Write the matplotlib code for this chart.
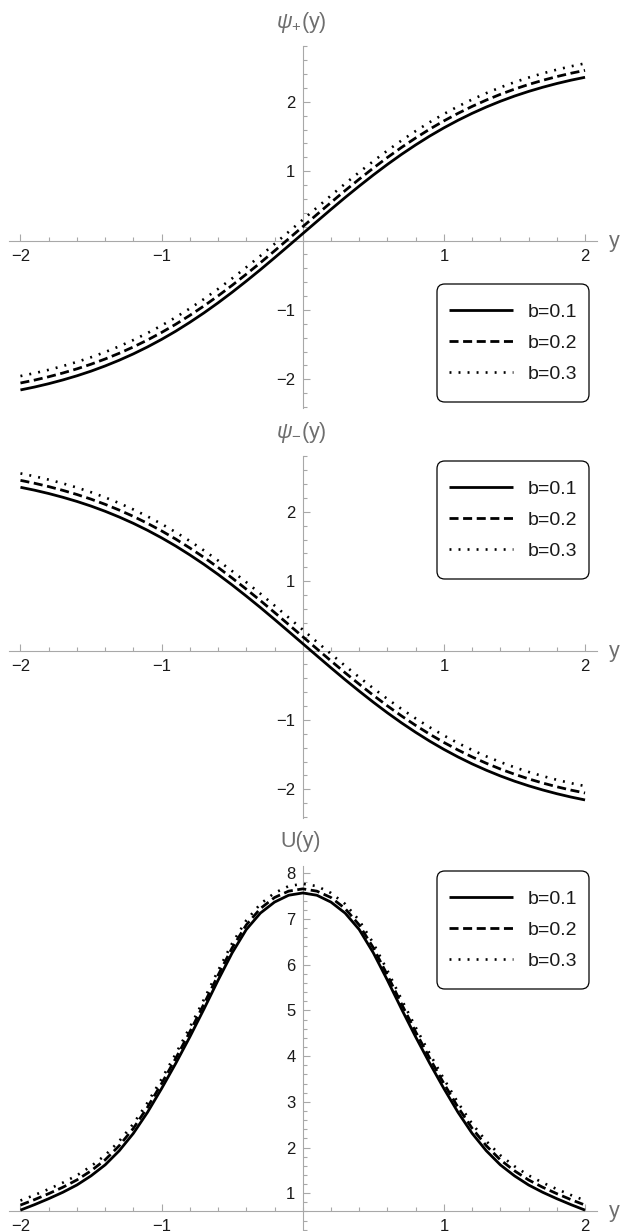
import numpy as np
import matplotlib
matplotlib.use('Agg')
import matplotlib.pyplot as plt
from matplotlib.ticker import FixedLocator
from matplotlib.patches import FancyBboxPatch

plt.rcParams['font.family'] = ['Liberation Sans', 'DejaVu Sans']
plt.rcParams['mathtext.fontset'] = 'custom'
plt.rcParams['mathtext.it'] = 'Liberation Sans:italic'
plt.rcParams['mathtext.rm'] = 'Liberation Sans'
plt.rcParams['mathtext.sf'] = 'Liberation Sans'
plt.rcParams['lines.scale_dashes'] = False

# ---------------- data ----------------
y_grid = np.linspace(-2, 2, 41)
labels = ['b=0.1', 'b=0.2', 'b=0.3']

psi_plus_b01 = [-2.154, -2.112, -2.064, -2.010, -1.950, -1.883, -1.808, -1.725, -1.634, -1.534,
                -1.425, -1.307, -1.179, -1.043, -0.898, -0.745, -0.585, -0.420, -0.249, -0.075,
                0.100, 0.275, 0.449, 0.620, 0.785, 0.945, 1.098, 1.243, 1.379, 1.507,
                1.625, 1.734, 1.834, 1.925, 2.008, 2.083, 2.150, 2.210, 2.264, 2.312, 2.354]
psi_plus_b02 = [-2.054, -2.012, -1.964, -1.910, -1.850, -1.783, -1.708, -1.625, -1.534, -1.434,
                -1.325, -1.207, -1.079, -0.943, -0.798, -0.645, -0.485, -0.320, -0.149, 0.025,
                0.200, 0.375, 0.549, 0.720, 0.885, 1.045, 1.198, 1.343, 1.479, 1.607,
                1.725, 1.834, 1.934, 2.025, 2.108, 2.183, 2.250, 2.310, 2.364, 2.412, 2.454]
psi_plus_b03 = [-1.954, -1.912, -1.864, -1.810, -1.750, -1.683, -1.608, -1.525, -1.434, -1.334,
                -1.225, -1.107, -0.979, -0.843, -0.698, -0.545, -0.385, -0.220, -0.049, 0.125,
                0.300, 0.475, 0.649, 0.820, 0.985, 1.145, 1.298, 1.443, 1.579, 1.707,
                1.825, 1.934, 2.034, 2.125, 2.208, 2.283, 2.350, 2.410, 2.464, 2.512, 2.554]

psi_minus_b01 = [2.354, 2.312, 2.264, 2.210, 2.150, 2.083, 2.008, 1.925, 1.834, 1.734,
                 1.625, 1.507, 1.379, 1.243, 1.098, 0.945, 0.785, 0.620, 0.449, 0.275,
                 0.100, -0.075, -0.249, -0.420, -0.585, -0.745, -0.898, -1.043, -1.179, -1.307,
                 -1.425, -1.534, -1.634, -1.725, -1.808, -1.883, -1.950, -2.010, -2.064, -2.112, -2.154]
psi_minus_b02 = [2.454, 2.412, 2.364, 2.310, 2.250, 2.183, 2.108, 2.025, 1.934, 1.834,
                 1.725, 1.607, 1.479, 1.343, 1.198, 1.045, 0.885, 0.720, 0.549, 0.375,
                 0.200, 0.025, -0.149, -0.320, -0.485, -0.645, -0.798, -0.943, -1.079, -1.207,
                 -1.325, -1.434, -1.534, -1.625, -1.708, -1.783, -1.850, -1.910, -1.964, -2.012, -2.054]
psi_minus_b03 = [2.554, 2.512, 2.464, 2.410, 2.350, 2.283, 2.208, 2.125, 2.034, 1.934,
                 1.825, 1.707, 1.579, 1.443, 1.298, 1.145, 0.985, 0.820, 0.649, 0.475,
                 0.300, 0.125, -0.049, -0.220, -0.385, -0.545, -0.698, -0.843, -0.979, -1.107,
                 -1.225, -1.334, -1.434, -1.525, -1.608, -1.683, -1.750, -1.810, -1.864, -1.912, -1.954]

U_b01 = [0.63, 0.75, 0.88, 1.02, 1.18, 1.38, 1.62, 1.93, 2.31, 2.77, 3.29,
         3.84, 4.42, 5.03, 5.66, 6.26, 6.77, 7.13, 7.37, 7.52, 7.57,
         7.52, 7.37, 7.13, 6.77, 6.26, 5.66, 5.03, 4.42, 3.84, 3.29,
         2.77, 2.31, 1.93, 1.62, 1.38, 1.18, 1.02, 0.88, 0.75, 0.63]
U_b02 = [0.74, 0.86, 0.99, 1.13, 1.29, 1.49, 1.73, 2.04, 2.42, 2.88, 3.40,
         3.95, 4.53, 5.14, 5.77, 6.37, 6.87, 7.23, 7.47, 7.61, 7.66,
         7.61, 7.47, 7.23, 6.87, 6.37, 5.77, 5.14, 4.53, 3.95, 3.40,
         2.88, 2.42, 2.04, 1.73, 1.49, 1.29, 1.13, 0.99, 0.86, 0.74]
U_b03 = [0.84, 0.96, 1.09, 1.23, 1.39, 1.59, 1.83, 2.14, 2.52, 2.98, 3.50,
         4.05, 4.63, 5.24, 5.87, 6.47, 6.97, 7.33, 7.57, 7.72, 7.77,
         7.72, 7.57, 7.33, 6.97, 6.47, 5.87, 5.24, 4.63, 4.05, 3.50,
         2.98, 2.52, 2.14, 1.83, 1.59, 1.39, 1.23, 1.09, 0.96, 0.84]

# ---------------- styling ----------------
W, H, DPI = 620, 1231, 100
AX_COLOR = '#a8a8a8'
LABEL_COLOR = '#6e6e6e'
TICKLABEL_COLOR = '#1a1a1a'
styles = [dict(ls='-', lw=2.0),
          dict(ls=(0, (6.5, 3.3)), lw=2.0),
          dict(ls=(0, (1.4, 5.1)), lw=1.9)]

fig = plt.figure(figsize=(W / DPI, H / DPI), dpi=DPI)


def px_axes(left, top, right, bottom):
    return fig.add_axes([left / W, 1 - bottom / H, (right - left) / W, (bottom - top) / H])


def setup(ax, ylim, xaxis_at, ymajor, yminor):
    ax.set_xlim(-2.084, 2.084)
    ax.set_ylim(*ylim)
    ax.patch.set_alpha(0)
    for s in ('top', 'right'):
        ax.spines[s].set_visible(False)
    ax.spines['left'].set_position(('data', 0))
    ax.spines['bottom'].set_position(('data', xaxis_at))
    for s in ('left', 'bottom'):
        ax.spines[s].set_color(AX_COLOR)
        ax.spines[s].set_linewidth(0.8)
    ax.xaxis.set_major_locator(FixedLocator([-2, -1, 1, 2]))
    ax.xaxis.set_minor_locator(FixedLocator(np.round(np.arange(-2, 2.01, 0.2), 2)))
    ax.yaxis.set_major_locator(FixedLocator(ymajor))
    ax.yaxis.set_minor_locator(FixedLocator(yminor))
    ax.set_xticklabels(['\u22122', '\u22121', '1', '2'])
    ax.tick_params(which='both', direction='in', color=AX_COLOR, width=0.8,
                   labelsize=12, labelcolor=TICKLABEL_COLOR)
    ax.tick_params(which='major', length=5.2)
    ax.tick_params(which='minor', length=2.9)
    ax.tick_params(axis='x', pad=5.8)
    ax.tick_params(axis='y', pad=5.3)


def legend_box(ax, top, bottom, left=437, right=589):
    patch = FancyBboxPatch((left / W, 1 - bottom / H), (right - left) / W, (bottom - top) / H,
                           boxstyle='round,pad=0,rounding_size=0.0125',
                           transform=fig.transFigure, facecolor='white',
                           edgecolor='black', linewidth=0.9, zorder=5,
                           mutation_aspect=W / H, clip_on=False)
    ax.add_artist(patch)
    leg = ax.legend(loc='center', bbox_to_anchor=((left + right) / 2 / W, 1 - (top + bottom) / 2 / H),
                    bbox_transform=fig.transFigure, frameon=False, fontsize=14,
                    handlelength=3.3, handletextpad=0.78, labelspacing=0.7, borderpad=0)
    leg.set_zorder(6)
    for t in leg.get_texts():
        t.set_color(TICKLABEL_COLOR)


def panel(top, bottom, ylim, xaxis_at, ymajor, yminor, series, ylabel, label_base, xlabel_base,
          leg_top, leg_bottom):
    ax = px_axes(8.6, top, 596.9, bottom)
    setup(ax, ylim, xaxis_at, ymajor, yminor)
    for vals, lab, st in zip(series, labels, styles):
        ax.plot(y_grid, vals, color='black', label=lab, solid_capstyle='butt',
                dash_capstyle='butt', clip_on=False, zorder=3, **st)
    fig.text(301 / W, 1 - label_base / H, ylabel, ha='center', va='baseline',
             fontsize=15.5, color=LABEL_COLOR)
    fig.text(609 / W, 1 - xlabel_base / H, 'y', ha='left', va='baseline',
             fontsize=15.5, color=LABEL_COLOR)
    legend_box(ax, leg_top, leg_bottom)
    return ax


psi_minor = np.round(np.arange(-2.4, 2.81, 0.2), 2)
u_minor = np.round(np.arange(0.2, 8.01, 0.2), 2)

panel(46, 407.7, (-2.41, 2.805), 0, [-2, -1, 1, 2], psi_minor,
      [psi_plus_b01, psi_plus_b02, psi_plus_b03], r'$\psi_{+}$(y)', 28, 247.5, 284, 402)
panel(456, 817.7, (-2.41, 2.805), 0, [-2, -1, 1, 2], psi_minor,
      [psi_minus_b01, psi_minus_b02, psi_minus_b03], r'$\psi_{-}$(y)', 438, 657.5, 461, 579)
ax3 = panel(866, 1231, (0.173, 8.16), 0.62, [1, 2, 3, 4, 5, 6, 7, 8], u_minor,
            [U_b01, U_b02, U_b03], 'U(y)', 847, 1217.5, 871, 989)

fig.savefig('out.png', dpi=DPI)
